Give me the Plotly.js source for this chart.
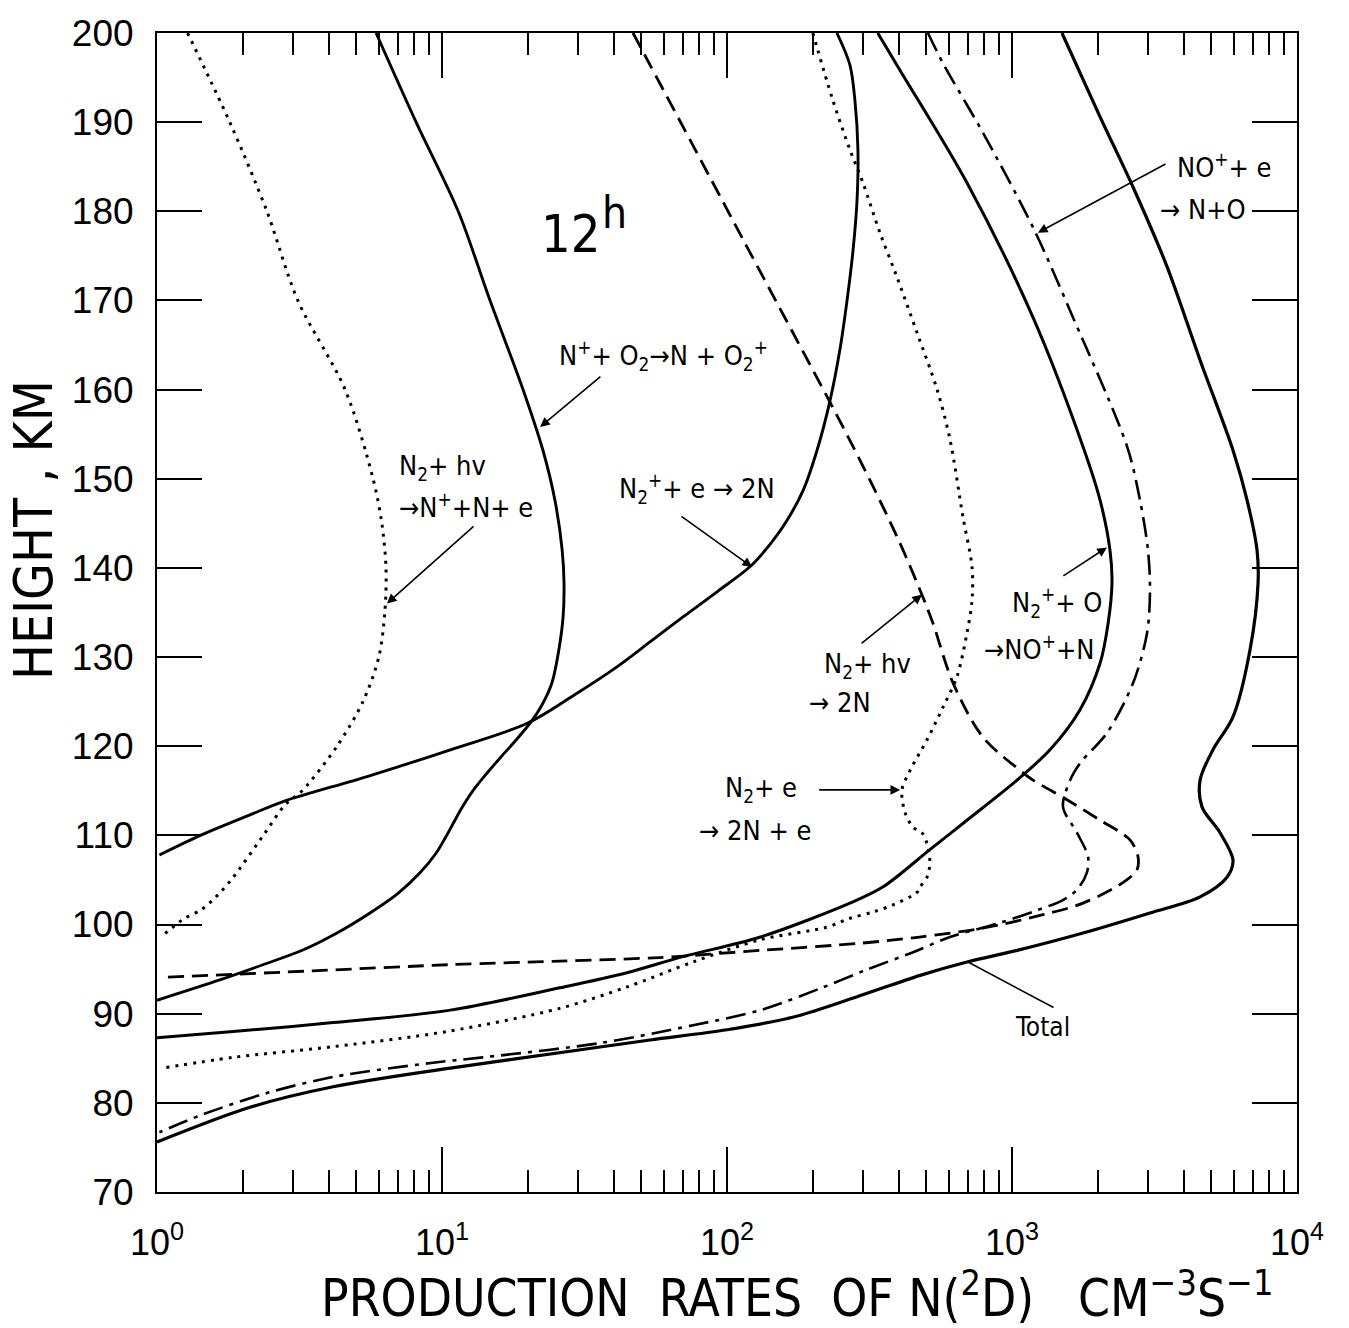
<!DOCTYPE html>
<html>
<head>
<meta charset="utf-8">
<script src="https://cdn.plot.ly/plotly-3.0.1.min.js"></script>
<style>
  html, body { margin: 0; padding: 0; background: #ffffff; }
  #chart { width: 1349px; height: 1328px; }
</style>
</head>
<body>
<div id="chart"></div>
<script>
// Production rates of N(2D) at 12h, height (km) against rate (cm^-3 s^-1)

// N2 + hv -> N+ + N + e  (dotted)
const kmPhotoIon = [200, 190, 180, 170, 160, 150, 145, 140, 135, 130, 125, 120, 115, 113.4, 110, 105, 102.75, 101.6, 100.7, 98.8];
const ratePhotoIon = [1.28, 1.80, 2.43, 3.12, 4.57, 5.73, 6.15, 6.36, 6.30, 6.00, 5.28, 4.28, 3.23, 2.81, 2.36, 1.82, 1.57, 1.42, 1.25, 1.05];

// N+ + O2 -> N + O2+  (solid)
const kmNplusO2 = [200, 190.0, 180.0, 170.1, 160.1, 153.2, 147.6, 142.0, 138.3, 134.5, 130.8, 127.1, 124.6, 122.7, 120.7, 118.8, 117.0, 115.1, 113.4, 111.7, 109.8, 108.0, 105.8, 103.5, 101.3, 99.05, 97.14, 95.46, 93.78, 91.5];
const rateNplusO2 = [5.87, 8.11, 11.4, 14.7, 19.2, 22.6, 24.9, 26.4, 26.8, 26.6, 25.7, 24.3, 22.4, 20.5, 18.2, 16.1, 14.4, 12.9, 11.9, 11.1, 10.3, 9.53, 8.37, 7.01, 5.59, 4.28, 3.25, 2.34, 1.66, 1.0];

// N2+ + e -> 2N  (solid)
const kmN2plusE = [200, 196.4, 192.5, 186.9, 181.3, 175.7, 170.1, 164.5, 158.8, 153.2, 148.7, 145.0, 142.7, 140.3, 137.4, 134.5, 131.7, 128.9, 125.8, 122.6, 119.6, 116.6, 113.8, 112.3, 110.0, 107.8];
const rateN2plusE = [243, 270, 281, 288, 286, 277, 264, 249, 230, 207, 185, 160, 142, 122, 93.0, 70.1, 53.7, 41.1, 29.3, 20.0, 10.7, 5.46, 2.77, 2.12, 1.42, 1.02];

// N2 + hv -> 2N  (dashed)
const kmN2hv = [200, 176.8, 153.6, 143.5, 137, 133.8, 127.1, 121, 117.3, 116.2, 114, 111.7, 109.5, 107.6, 106.1, 104.7, 102.4, 101.1, 99.6, 98.6, 97.9, 97.1, 96.3, 95.9, 95.5, 94.8, 94.1];
const rateN2hv = [46.8, 114, 277, 395, 483, 528, 621, 791, 1067, 1185, 1560, 2037, 2594, 2768, 2740, 2450, 1775, 1285, 791, 474, 293, 131, 58, 25.9, 10.7, 3.5, 1.08];

// N2 + e -> 2N + e  (dotted)
const kmN2e = [200, 192.5, 186.9, 183.2, 177.6, 172.6, 166.4, 160, 154.4, 145.7, 140.1, 136.4, 132.7, 127.8, 124.4, 120.7, 117.3, 115.1, 112.5, 110.9, 110.3, 109.1, 106.9, 105.3, 104.2, 103.6, 102.2, 101.4, 100.7, 99.7, 98.3, 95.8, 93.0, 90.6, 88.0, 86.3, 85.1, 83.9];
const rateN2e = [200, 235, 270, 300, 344, 395, 464, 546, 606, 673, 724, 724, 695, 641, 573, 503, 439, 411, 422, 450, 483, 503, 515, 503, 475, 464, 382, 325, 270, 224, 131, 76, 44.6, 25.9, 10.4, 4.15, 1.85, 1.05];

// N2+ + O -> NO+ + N  (solid)
const kmN2plusO = [200, 195.8, 183.2, 168.1, 153.6, 147.6, 142, 138.3, 133.8, 129.3, 124.1, 119.6, 116.2, 111.7, 108.4, 104.2, 102.4, 98.6, 96.4, 94.6, 92.9, 90.4, 89, 88, 87.3];
const rateN2plusO = [338, 405, 695, 1185, 1775, 2037, 2207, 2243, 2174, 2037, 1733, 1359, 1042, 695, 515, 352, 270, 131, 70, 44.6, 25.9, 10.7, 4.15, 1.85, 1.0];

// NO+ + e -> N + O  (dash-dot)
const kmNOplusE = [200, 196.6, 188.8, 178.2, 168.1, 153.6, 147.6, 142, 137.5, 132.7, 127.1, 121.5, 118.1, 116.2, 113.2, 110.3, 107.6, 105.8, 103.9, 102.75, 101.6, 100.2, 98.6, 96.9, 94.9, 92.9, 90.4, 88.7, 86.7, 85.1, 84.5, 82.9, 81.1, 78.6, 76.7];
const rateNOplusE = [507, 573, 791, 1185, 1637, 2535, 2812, 3000, 3049, 2978, 2660, 2155, 1733, 1600, 1510, 1690, 1849, 1830, 1690, 1510, 1224, 908, 606, 450, 307, 215, 131, 76, 35.8, 13.9, 9.3, 4.15, 2.43, 1.42, 1.02];

// Total  (solid)
const kmTotal = [200, 190.6, 182.7, 173.8, 163.3, 153.2, 147.6, 142, 138.3, 130.8, 123.3, 119.6, 116.2, 113.2, 110.3, 107.2, 105.3, 103.1, 101.3, 99.05, 97.1, 95.8, 94.3, 91.9, 89.6, 88.2, 87.05, 85.9, 83.9, 81.8, 79.5, 75.6];
const rateTotal = [1497, 2037, 2660, 3499, 4571, 5962, 6680, 7240, 7300, 6840, 5962, 5070, 4571, 4640, 5370, 5962, 5680, 4571, 3049, 1775, 1042, 695, 476, 286, 170, 100, 53.7, 29.8, 10.7, 4.15, 2.12, 1.0];

// Axis ticks
const xTickVals = [1, 10, 100, 1000, 10000];
const xTickText = ['10<sup>0</sup>', '10<sup>1</sup>', '10<sup>2</sup>', '10<sup>3</sup>', '10<sup>4</sup>'];

const NARROW = '"Liberation Sans Narrow", "Arial Narrow", "DejaVu Sans Condensed", sans-serif';
const REGULAR = '"Liberation Sans", Arial, sans-serif';

const DOT = '3px,6px';
const DASH = '16px,8px';
const DASHDOT = '20px,7px,4px,7px';

function curve(km, rate, dash, width) {
  return {
    x: rate, y: km, type: 'scatter', mode: 'lines',
    line: { color: '#000', width: width, dash: dash, shape: 'spline', smoothing: 0.9 },
    hoverinfo: 'skip'
  };
}

const data = [
  curve(kmPhotoIon, ratePhotoIon, DOT, 3),
  curve(kmNplusO2, rateNplusO2, 'solid', 2.9),
  curve(kmN2plusE, rateN2plusE, 'solid', 2.9),
  curve(kmN2hv, rateN2hv, DASH, 2.8),
  curve(kmN2e, rateN2e, DOT, 3),
  curve(kmN2plusO, rateN2plusO, 'solid', 3),
  curve(kmNOplusE, rateNOplusE, DASHDOT, 2.6),
  curve(kmTotal, rateTotal, 'solid', 3.2)
];

const L = Math.log10;
const lblFont = { family: NARROW, size: 27, color: '#000' };

function label(text, rate, km, size) {
  return {
    xref: 'x', yref: 'y', x: L(rate), y: km, text: text,
    showarrow: false, xanchor: 'left', yanchor: 'middle',
    font: size ? { family: NARROW, size: size, color: '#000' } : lblFont
  };
}

function pointer(rateTip, kmTip, rateTail, kmTail, head) {
  return {
    xref: 'x', yref: 'y', axref: 'x', ayref: 'y',
    x: L(rateTip), y: kmTip, ax: L(rateTail), ay: kmTail,
    text: '', showarrow: true,
    arrowhead: head, arrowsize: 1.2, arrowwidth: 1.6, arrowcolor: '#000',
    standoff: 0, startstandoff: 0
  };
}

const annotations = [
  label('12', 21.9, 177.5, 52),
  label('h', 35.8, 179.9, 44),

  label('N<sup>+</sup>+ O<sub>2</sub>\u2192N + O<sub>2</sub><sup>+</sup>', 25.3, 163.8),
  pointer(22.1, 155.8, 36.4, 161.6, 2),

  label('N<sub>2</sub>+ hv', 6.95, 151.3),
  label('\u2192N<sup>+</sup>+N+ e', 6.95, 146.95),
  pointer(6.41, 136.0, 13.06, 144.8, 2),

  label('N<sub>2</sub><sup>+</sup>+ e \u2192 2N', 41.1, 148.9),
  pointer(122.5, 140.1, 68.4, 145.9, 2),

  label('N<sub>2</sub>+ hv', 215, 129.1),
  label('\u2192 2N', 191, 124.85),
  pointer(483, 137.0, 293, 131.4, 2),

  label('N<sub>2</sub>+ e', 96.8, 115.1),
  label('\u2192 2N + e', 78.5, 110.5),
  pointer(405, 115.1, 208, 115.1, 2),

  label('N<sub>2</sub><sup>+</sup>+ O', 984, 136.1),
  label('\u2192NO<sup>+</sup>+N', 785, 131.1),
  pointer(2153, 142.3, 1496, 139.0, 2),

  label('NO<sup>+</sup>+ e', 3733, 185.1),
  label('\u2192 N+O', 3251, 180.15),
  pointer(1233, 177.6, 3499, 185.4, 2),

  label('Total', 1009, 88.5, 26),
  pointer(701, 95.8, 1416, 90.6, 0),

  // axis titles
  {
    xref: 'paper', yref: 'paper', x: 0.561, y: -0.089, xanchor: 'center', yanchor: 'middle',
    showarrow: false,
    text: 'PRODUCTION\u00a0\u00a0RATES\u00a0\u00a0OF N(<sup>2</sup>D)\u00a0\u00a0\u00a0CM<sup>\u22123</sup>S<sup>\u22121</sup>',
    font: { family: NARROW, size: 51, color: '#000' }
  },
  {
    xref: 'paper', yref: 'paper', x: -0.109, y: 0.571, xanchor: 'center', yanchor: 'middle',
    showarrow: false, textangle: -90,
    text: 'HEIGHT , KM',
    font: { family: NARROW, size: 53, color: '#000' }
  }
];

const axisCommon = {
  showline: true, linewidth: 2, linecolor: '#000', mirror: 'ticks',
  ticks: 'inside', tickwidth: 2, tickcolor: '#000',
  showgrid: false, zeroline: false
};

const layout = {
  width: 1349, height: 1328,
  margin: { l: 157, r: 52, t: 33, b: 136 },
  paper_bgcolor: '#fff', plot_bgcolor: '#fff',
  showlegend: false,
  xaxis: Object.assign({}, axisCommon, {
    type: 'log', range: [0, 4], fixedrange: true,
    tickmode: 'array', tickvals: xTickVals, ticktext: xTickText,
    ticklen: 45, ticklabelstandoff: 18,
    tickfont: { family: REGULAR, size: 36, color: '#000' },
    minor: { ticks: 'inside', ticklen: 22, tickwidth: 2, tickcolor: '#000', dtick: 'D1', showgrid: false }
  }),
  yaxis: Object.assign({}, axisCommon, {
    range: [70, 200], tick0: 70, dtick: 10, fixedrange: true,
    ticklen: 45, ticklabelstandoff: 14,
    tickfont: { family: REGULAR, size: 37, color: '#000' }
  }),
  annotations: annotations
};

Plotly.newPlot('chart', data, layout, { displayModeBar: false, staticPlot: true });
</script>
</body>
</html>
